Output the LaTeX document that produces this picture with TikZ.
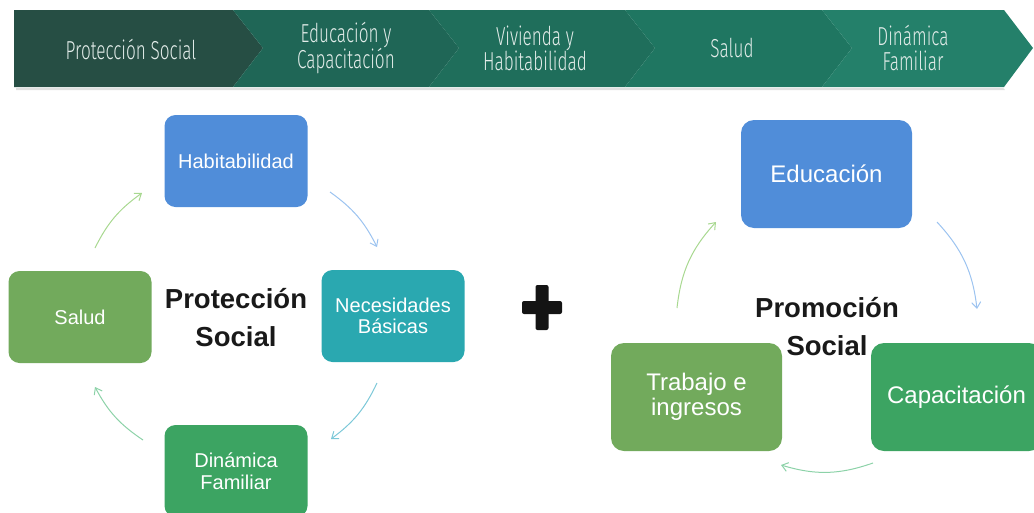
\documentclass[tikz,border=0pt]{standalone}
\usepackage{fontspec}
\setmainfont{Liberation Sans}
\newfontfamily\bannerfont{Fira Sans Light}[FakeStretch=0.66]
\usetikzlibrary{arrows.meta}
\definecolor{seg1}{RGB}{38,78,68}
\definecolor{seg2}{RGB}{31,102,86}
\definecolor{seg3}{RGB}{31,110,91}
\definecolor{seg4}{RGB}{31,118,97}
\definecolor{seg5}{RGB}{36,128,106}
\definecolor{bantext}{RGB}{226,236,233}
\definecolor{cblue}{RGB}{80,141,217}
\definecolor{cteal}{RGB}{42,168,176}
\definecolor{cgreenA}{RGB}{114,170,92}
\definecolor{cgreenB}{RGB}{60,164,98}
\definecolor{aBlue}{RGB}{156,195,240}
\definecolor{aTeal}{RGB}{124,200,216}
\definecolor{aGreen}{RGB}{140,210,168}
\definecolor{aLime}{RGB}{168,216,144}
\tikzset{
  bantxt/.style={text=bantext, font=\bannerfont\fontsize{26}{25}\selectfont, align=center, inner sep=0pt},
  boxL/.style={rounded corners=11pt, minimum width=143pt, minimum height=92pt, text=white,
    font=\fontsize{20}{21.5}\selectfont, align=center, inner sep=0pt},
  boxR/.style={rounded corners=13pt, minimum width=171pt, minimum height=108pt, text=white,
    font=\fontsize{24}{25}\selectfont, align=center, inner sep=0pt},
  title/.style={font=\bfseries\fontsize{27.5}{38}\selectfont, align=center, text=black!90, inner sep=0pt},
  cyc/.style={line width=1pt, -{Straight Barb[length=6pt,width=9pt]}},
}
\begin{document}
\begin{tikzpicture}[x=1pt,y=-1pt]
\useasboundingbox (0,0) rectangle (1034,512);
\clip (0,0) rectangle (1034,512);
% banner
\fill[black!12] (16,88) -- (1003,88) -- (1005,90) -- (16,90) -- cycle;
\fill[seg1] (14,10) -- (233,10) -- (263,48) -- (233,87) -- (14,87) -- cycle;
\fill[seg2] (233,10) -- (429,10) -- (459,48) -- (429,87) -- (233,87) -- (263,48) -- cycle;
\fill[seg3] (429,10) -- (625,10) -- (655,48) -- (625,87) -- (429,87) -- (459,48) -- cycle;
\fill[seg4] (625,10) -- (822,10) -- (852,48) -- (822,87) -- (625,87) -- (655,48) -- cycle;
\fill[seg5] (822,10) -- (1004,10) -- (1033,48) -- (1004,87) -- (822,87) -- (852,48) -- cycle;
\node[bantxt] (b1) at (131,49) {Protección Social};
\node[bantxt] (b2) at (346,48) {Educación y\\Capacitación};
\node[bantxt] (b3) at (535,48) {Vivienda y\\Habitabilidad};
\node[bantxt] (b4) at (732,48) {Salud};
\node[bantxt] (b5) at (913,48) {Dinámica\\Familiar};
% left cycle
\node[boxL, fill=cblue] (hab) at (236,161) {Habitabilidad};
\node[boxL, fill=cteal] (nec) at (393,316) {Necesidades\\Básicas};
\node[boxL, fill=cgreenB] (din) at (236,471) {Dinámica\\Familiar};
\node[boxL, fill=cgreenA] (sal) at (80,317) {Salud};
\node[title] (ps) at (236,318) {Protección\\Social};
\coordinate (l1s) at (330,192); \coordinate (l1e) at (377,247);
\coordinate (l2s) at (377,383); \coordinate (l2e) at (331,439);
\coordinate (l3s) at (143,440); \coordinate (l3e) at (95,387);
\coordinate (l4s) at (95,248);  \coordinate (l4e) at (142,193);
\draw[cyc, aBlue] (l1s) to[bend left=14] (l1e);
\draw[cyc, aTeal] (l2s) to[bend left=14] (l2e);
\draw[cyc, aGreen] (l3s) to[bend left=14] (l3e);
\draw[cyc, aLime] (l4s) to[bend left=14] (l4e);
% plus
\fill[black!92, rounded corners=2pt] (522,301) rectangle (562,314);
\fill[black!92, rounded corners=2pt] (535.5,285) rectangle (548.5,330);
% right cycle
\node[boxR, fill=cblue] (edu) at (826.5,174) {Educación};
\node[boxR, fill=cgreenB] (cap) at (956.5,397) {Capacitación};
\node[boxR, fill=cgreenA] (tra) at (696.5,397) {Trabajo e\\ingresos};
\node[title] (pr) at (827,327) {Promoción\\Social};
\coordinate (r1s) at (937,222); \coordinate (r1e) at (977,309);
\coordinate (r2s) at (873,463); \coordinate (r2e) at (781,465);
\coordinate (r3s) at (677,308); \coordinate (r3e) at (716,222);
\draw[cyc, aBlue] (r1s) to[bend left=18] (r1e);
\draw[cyc, aGreen] (r2s) to[bend left=18] (r2e);
\draw[cyc, aLime] (r3s) to[bend left=18] (r3e);
\end{tikzpicture}
\end{document}
